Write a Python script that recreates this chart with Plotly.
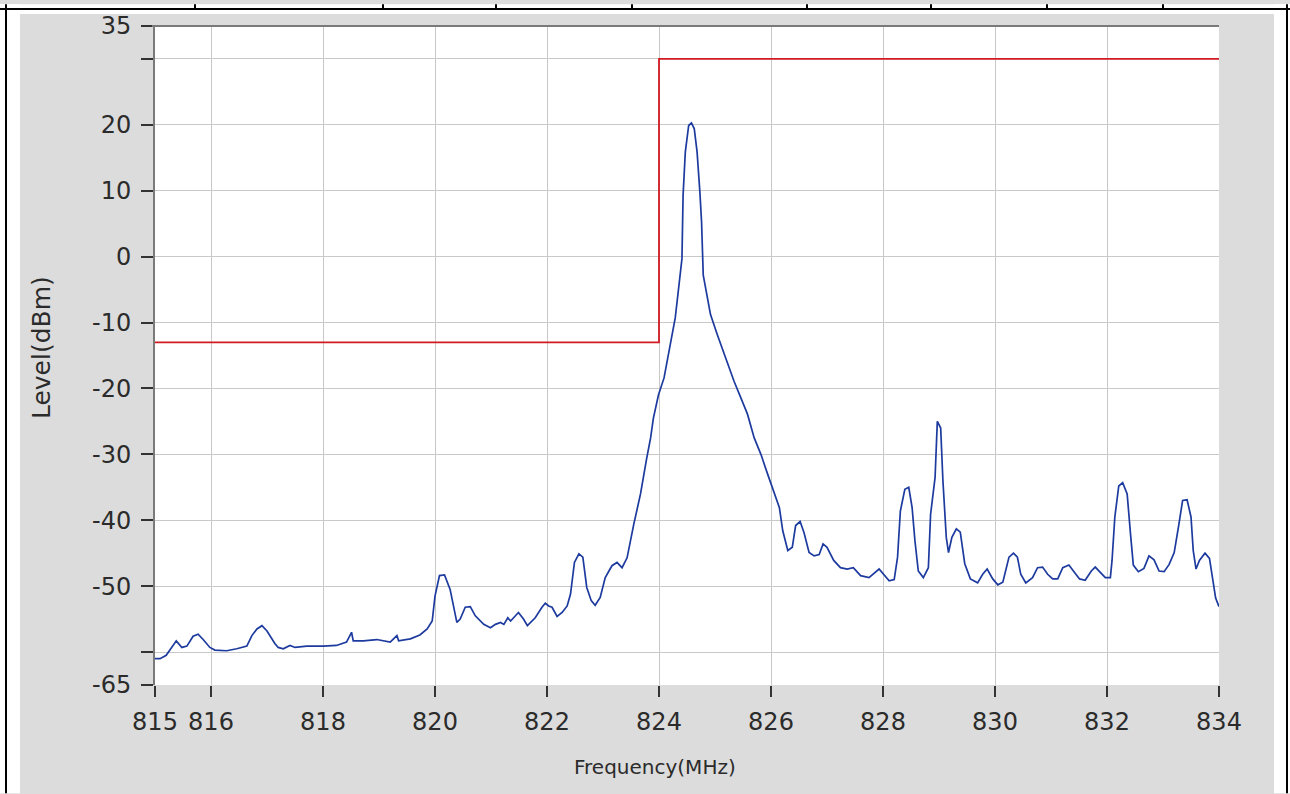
import plotly.graph_objects as go

# ---- data ----
freq_mhz = [
    815.00, 815.09, 815.20, 815.30, 815.38, 815.48, 815.57, 815.68, 815.77, 815.86,
    815.98, 816.07, 816.28, 816.46, 816.64, 816.73, 816.82, 816.91, 817.00, 817.14,
    817.20, 817.29, 817.41, 817.50, 817.71, 818.00, 818.24, 818.42, 818.51, 818.54,
    818.72, 818.96, 819.20, 819.32, 819.35, 819.56, 819.73, 819.86, 819.95, 820.00,
    820.08, 820.17, 820.24, 820.27, 820.39, 820.45, 820.54, 820.63, 820.72, 820.87,
    820.99, 821.08, 821.17, 821.23, 821.30, 821.35, 821.49, 821.58, 821.65, 821.79,
    821.91, 821.97, 822.03, 822.09, 822.18, 822.27, 822.36, 822.42, 822.49, 822.57,
    822.64, 822.71, 822.79, 822.86, 822.95, 823.04, 823.16, 823.25, 823.34, 823.43,
    823.55, 823.67, 823.78, 823.85, 823.90, 823.99, 824.09, 824.20, 824.29, 824.35,
    824.41, 824.43, 824.47, 824.53, 824.58, 824.63, 824.68, 824.73, 824.76, 824.79,
    824.86, 824.92, 825.04, 825.19, 825.34, 825.46, 825.58, 825.70, 825.82, 825.94,
    826.06, 826.15, 826.21, 826.30, 826.38, 826.44, 826.52, 826.59, 826.68, 826.77,
    826.86, 826.93, 827.00, 827.12, 827.24, 827.36, 827.47, 827.60, 827.75, 827.93,
    828.11, 828.20, 828.26, 828.31, 828.39, 828.46, 828.52, 828.57, 828.63, 828.72,
    828.81, 828.85, 828.93, 828.97, 829.03, 829.07, 829.13, 829.17, 829.23, 829.31,
    829.38, 829.46, 829.56, 829.69, 829.78, 829.86, 829.96, 830.05, 830.14, 830.25,
    830.33, 830.40, 830.46, 830.55, 830.67, 830.76, 830.85, 830.94, 831.03, 831.12,
    831.21, 831.32, 831.40, 831.51, 831.61, 831.72, 831.79, 831.87, 831.97, 832.06,
    832.09, 832.14, 832.21, 832.28, 832.36, 832.42, 832.47, 832.56, 832.66, 832.75,
    832.84, 832.93, 833.02, 833.11, 833.20, 833.28, 833.35, 833.43, 833.50, 833.54,
    833.59, 833.65, 833.75, 833.83, 833.89, 833.94, 834.00,
]
level_dbm = [
    -61.0, -61.0, -60.5, -59.2, -58.3, -59.3, -59.1, -57.6, -57.3, -58.1,
    -59.3, -59.7, -59.8, -59.5, -59.1, -57.5, -56.5, -56.0, -56.8, -58.7,
    -59.3, -59.5, -59.0, -59.3, -59.1, -59.1, -59.0, -58.5, -57.0, -58.3,
    -58.3, -58.1, -58.5, -57.5, -58.3, -58.0, -57.4, -56.5, -55.3, -51.5,
    -48.4, -48.3, -49.8, -50.5, -55.5, -55.0, -53.2, -53.1, -54.5, -55.8,
    -56.3, -55.8, -55.5, -55.8, -54.8, -55.3, -54.0, -55.0, -56.0, -54.8,
    -53.2, -52.6, -53.0, -53.2, -54.6, -54.0, -53.0, -51.2, -46.4, -45.1,
    -45.6, -50.2, -52.2, -52.9, -51.7, -48.7, -46.9, -46.4, -47.2, -45.7,
    -40.6, -36.0, -30.6, -27.5, -24.5, -21.0, -18.4, -13.4, -9.3, -4.8,
    -0.3, 9.3, 15.9, 19.9, 20.3, 19.4, 15.9, 9.8, 5.3, -2.8,
    -5.8, -8.8, -11.8, -15.4, -18.9, -21.4, -23.9, -27.5, -30.0, -33.0,
    -36.1, -38.1, -41.6, -44.6, -44.1, -40.8, -40.2, -41.9, -44.9, -45.4,
    -45.2, -43.6, -44.1, -46.1, -47.2, -47.4, -47.2, -48.4, -48.7, -47.4,
    -49.2, -49.0, -45.6, -38.6, -35.3, -35.0, -38.1, -43.1, -47.7, -48.7,
    -47.2, -39.1, -33.5, -25.0, -26.0, -34.0, -42.6, -44.9, -42.6, -41.3,
    -41.8, -46.6, -48.9, -49.5, -48.2, -47.4, -48.9, -49.8, -49.4, -45.6,
    -45.0, -45.6, -48.2, -49.5, -48.7, -47.2, -47.1, -48.2, -48.9, -48.9,
    -47.2, -46.8, -47.7, -48.9, -49.1, -47.7, -47.1, -47.8, -48.7, -48.7,
    -46.1, -39.5, -34.8, -34.3, -36.0, -42.1, -46.8, -47.8, -47.3, -45.4,
    -46.0, -47.7, -47.8, -46.7, -44.9, -40.8, -37.0, -36.9, -39.5, -44.6,
    -47.4, -46.1, -45.0, -45.8, -49.3, -51.8, -53.1,
]

limit_freq = [815, 824, 824, 834]
limit_level = [-13, -13, 30, 30]

x_tickvals = [815, 816, 818, 820, 822, 824, 826, 828, 830, 832, 834]
x_ticktext = ["815", "816", "818", "820", "822", "824", "826", "828", "830", "832", "834"]
x_gridvals = [816, 818, 820, 822, 824, 826, 828, 830, 832]

y_tickvals = [35, 30, 20, 10, 0, -10, -20, -30, -40, -50, -60, -65]
y_ticktext = ["35", "", "20", "10", "0", "-10", "-20", "-30", "-40", "-50", "", "-65"]
y_gridvals = [30, 20, 10, 0, -10, -20, -30, -40, -50, -60]

# ---- figure geometry ----
W, H = 1290, 794
ML, MR, MT, MB = 155, 71, 22, 109
PW, PH = W - ML - MR, H - MT - MB


def px(xp):
    return (xp - ML) / PW


def py(yp):
    return (H - MB - yp) / PH


FONT = "DejaVu Sans"
TXT = "#2b2b2b"

fig = go.Figure()
fig.add_trace(go.Scatter(
    x=limit_freq, y=limit_level, mode="lines",
    line=dict(color="#d11a22", width=1.8), showlegend=False, hoverinfo="skip",
))
fig.add_trace(go.Scatter(
    x=freq_mhz, y=level_dbm, mode="lines",
    line=dict(color="#1d3a9e", width=1.7), showlegend=False,
))

shapes = []
# white page margins around the grey panel
for (x0, y0, x1, y1) in [(0, 0, 20, H), (0, 0, W, 10), (1274, 0, W, H)]:
    shapes.append(dict(type="rect", xref="paper", yref="paper",
                       x0=px(x0), x1=px(x1), y0=py(y1), y1=py(y0),
                       fillcolor="white", line=dict(width=0), layer="below"))
# table border lines
blk = dict(color="black", width=2)
shapes.append(dict(type="line", xref="paper", yref="paper",
                   x0=px(0), x1=px(W), y0=py(5), y1=py(5), line=blk))
shapes.append(dict(type="line", xref="paper", yref="paper",
                   x0=px(6), x1=px(6), y0=py(0), y1=py(H), line=blk))
shapes.append(dict(type="line", xref="paper", yref="paper",
                   x0=px(1287), x1=px(1287), y0=py(0), y1=py(H), line=blk))
for xd in [195, 383, 496, 632, 807, 931, 1047, 1163]:
    shapes.append(dict(type="line", xref="paper", yref="paper",
                       x0=px(xd), x1=px(xd), y0=py(0), y1=py(5), line=blk))
# top frame line of plot area
shapes.append(dict(type="line", xref="paper", yref="paper",
                   x0=px(152), x1=1, y0=1, y1=1,
                   line=dict(color="#7a7a7a", width=2)))

fig.update_layout(
    width=W, height=H,
    margin=dict(l=ML, r=MR, t=MT, b=MB, pad=0),
    paper_bgcolor="#dcdcdc",
    plot_bgcolor="white",
    font=dict(family=FONT, color=TXT),
    shapes=shapes,
    showlegend=False,
    annotations=[
        dict(text="Frequency(MHz)", xref="paper", yref="paper",
             x=px(655), y=py(767), showarrow=False,
             font=dict(size=20, family=FONT, color=TXT),
             xanchor="center", yanchor="middle"),
        dict(text="Level(dBm)", xref="paper", yref="paper",
             x=px(41), y=py(346), showarrow=False, textangle=-90,
             font=dict(size=25, family=FONT, color=TXT),
             xanchor="center", yanchor="middle"),
    ],
)

fig.update_xaxes(
    range=[815, 834], tickmode="array", tickvals=x_tickvals, ticktext=x_ticktext,
    showgrid=False, zeroline=False, showline=False,
    ticks="outside", ticklen=11, tickwidth=2, tickcolor="#333333",
    tickfont=dict(size=24, family=FONT, color=TXT), ticklabelstandoff=4,
    minor=dict(tickvals=x_gridvals, showgrid=True, gridcolor="#c9c9c9",
               gridwidth=1, ticks=""),
)
fig.update_yaxes(
    range=[-65, 35], tickmode="array", tickvals=y_tickvals, ticktext=y_ticktext,
    showgrid=False, zeroline=False,
    showline=True, linecolor="#7a7a7a", linewidth=2,
    ticks="outside", ticklen=12, tickwidth=2, tickcolor="#333333",
    tickfont=dict(size=24, family=FONT, color=TXT), ticklabelstandoff=5,
    minor=dict(tickvals=y_gridvals, showgrid=True, gridcolor="#c9c9c9",
               gridwidth=1, ticks=""),
)

fig.write_html(
    "out.html",
    config={"displayModeBar": False},
    post_script="document.body.style.margin='0px';document.body.style.overflow='hidden';",
)
